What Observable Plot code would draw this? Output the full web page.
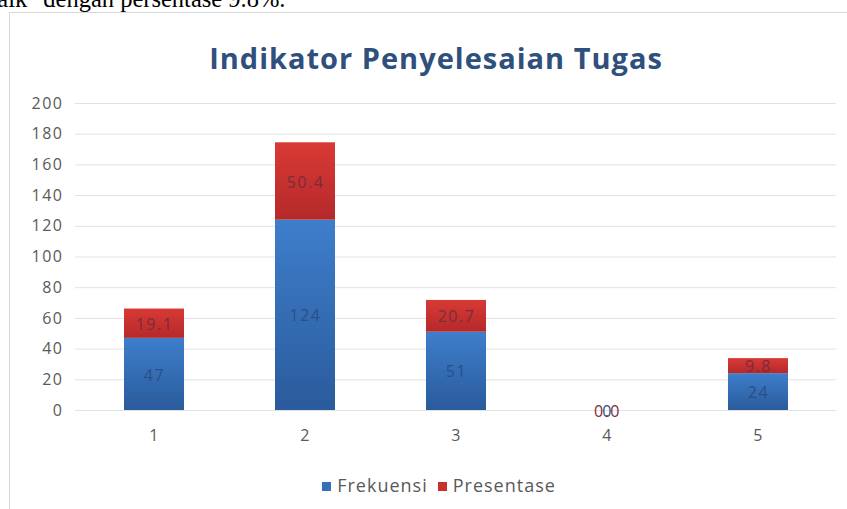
<!DOCTYPE html>
<html>
<head>
<meta charset="utf-8">
<script src="https://cdn.jsdelivr.net/npm/d3@7"></script>
<script src="https://cdn.jsdelivr.net/npm/@observablehq/plot@0.6"></script>
<style>
  html, body { margin: 0; padding: 0; background: #fff; }
  #page { position: relative; width: 847px; height: 509px; overflow: hidden; background: #fff; }
  #doctext { position: absolute; left: -25px; top: -13px; font: 24.5px "Liberation Serif", "Times New Roman", serif; line-height: 1; color: #000; white-space: nowrap; }
  #frame { position: absolute; left: 9px; top: 12px; width: 850px; height: 510px; border: 1px solid #d6d8e0; box-sizing: border-box; }
  #title { position: absolute; left: 0; width: 872px; top: 38px; text-align: center; font: bold 29px "Open Sans", Lato, sans-serif; color: #2f4f7d; letter-spacing: 1px; }
  #chart { position: absolute; left: 0; top: 80px; }
  #legend { position: absolute; top: 473px; left: 0; width: 878px; text-align: center; font: 18px "Open Sans", Lato, sans-serif; color: #595959; letter-spacing: 1px; }
  #legend span.item { margin: 0 5px; }
  #legend span.sw { display: inline-block; width: 9px; height: 9px; margin-right: 6px; vertical-align: 1px; }
</style>
</head>
<body>
<div id="page">
  <div id="doctext">"baik" dengan persentase 9.8%.</div>
  <div id="frame"></div>
  <div id="title">Indikator Penyelesaian Tugas</div>
  <div id="chart"></div>
  <div id="legend"></div>
</div>
<script>
const categories = ["1", "2", "3", "4", "5"];
const seriesNames = ["Frekuensi", "Presentase"];
const frekuensi = [47, 124, 51, 0, 24];
const presentase = [19.1, 50.4, 20.7, 0, 9.8];
const frekuensiLabels = ["47", "124", "51", "0", "24"];
const presentaseLabels = ["19.1", "50.4", "20.7", "0.0", "9.8"];
const yTicks = [0, 20, 40, 60, 80, 100, 120, 140, 160, 180, 200];
const colors = ["#3570b8", "#c6302e"];
const labelColors = ["#2c4f86", "#7d2b3c"];

const data = [];
categories.forEach((c, i) => {
  data.push({cat: c, series: seriesNames[0], value: frekuensi[i], label: frekuensiLabels[i], order: 0});
  data.push({cat: c, series: seriesNames[1], value: presentase[i], label: presentaseLabels[i], order: 1});
});

const chart = Plot.plot({
  width: 847,
  height: 370,
  marginLeft: 78,
  marginRight: 13,
  marginTop: 23,
  marginBottom: 40,
  style: {fontFamily: "'Open Sans', Lato, sans-serif", fontSize: "16px", color: "#595959", background: "transparent", letterSpacing: "1.5px"},
  x: {domain: categories, paddingInner: 0.6, paddingOuter: 0.3, label: null, tickSize: 0, tickPadding: 19},
  y: {domain: [0, 200], ticks: yTicks, label: null, tickSize: 0, tickPadding: 15, grid: false},
  color: {domain: seriesNames, range: colors},
  marks: [
    Plot.ruleY(yTicks, {stroke: "#e2e2e2", strokeWidth: 1, insetLeft: -3, insetRight: -2}),
    Plot.barY(data, Plot.stackY({x: "cat", y: "value", fill: "series", order: "order"})),
    Plot.text(data, Plot.stackY({x: "cat", y: "value", z: "series", text: "label", order: "order",
      fill: d => labelColors[d.order], fontSize: 16, dy: 1}))
  ]
});

// gradient fills for the bars (style only)
const ns = "http://www.w3.org/2000/svg";
const defs = document.createElementNS(ns, "defs");
function grad(id, top, bottom) {
  const g = document.createElementNS(ns, "linearGradient");
  g.setAttribute("id", id);
  g.setAttribute("x1", "0"); g.setAttribute("y1", "0");
  g.setAttribute("x2", "0"); g.setAttribute("y2", "1");
  [[0, top], [1, bottom]].forEach(([o, c]) => {
    const s = document.createElementNS(ns, "stop");
    s.setAttribute("offset", o);
    s.setAttribute("stop-color", c);
    g.appendChild(s);
  });
  defs.appendChild(g);
}
grad("gBlue", "#3e7ecb", "#2a5b9c");
grad("gRed", "#d83a35", "#b5292a");
chart.insertBefore(defs, chart.firstChild);
chart.querySelectorAll("rect").forEach(r => {
  const f = (r.getAttribute("fill") || "").toLowerCase();
  if (f === colors[0]) r.setAttribute("fill", "url(#gBlue)");
  else if (f === colors[1]) r.setAttribute("fill", "url(#gRed)");
});
document.getElementById("chart").appendChild(chart);

const legend = document.getElementById("legend");
seriesNames.forEach((s, i) => {
  const item = document.createElement("span");
  item.className = "item";
  const sw = document.createElement("span");
  sw.className = "sw";
  sw.style.background = colors[i];
  item.appendChild(sw);
  item.appendChild(document.createTextNode(s));
  legend.appendChild(item);
});
</script>
</body>
</html>
